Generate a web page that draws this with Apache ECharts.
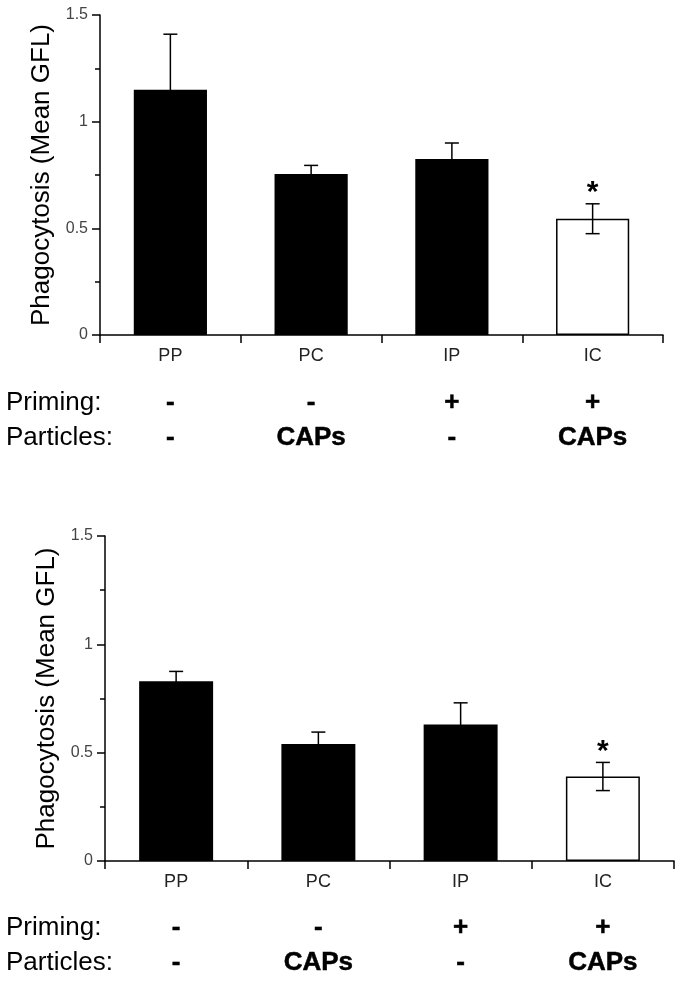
<!DOCTYPE html>
<html>
<head>
<meta charset="utf-8">
<script src="https://cdn.jsdelivr.net/npm/echarts@6/dist/echarts.min.js"></script>
<style>
  html, body { margin: 0; padding: 0; background: #fff; }
  #chart { width: 680px; height: 986px; }
</style>
</head>
<body>
<div id="chart"></div>
<script>
// data
const categories = ['PP', 'PC', 'IP', 'IC'];
const primingRow = ['-', '-', '+', '+'];
const particlesRow = ['-', 'CAPs', '-', 'CAPs'];
const topMeans = [1.15, 0.755, 0.825, 0.545];
const topErrors = [0.26, 0.04, 0.075, 0.07];
const bottomMeans = [0.83, 0.54, 0.63, 0.39];
const bottomErrors = [0.045, 0.055, 0.10, 0.065];
const significance = ['', '', '', '*'];
const barColors = ['#000', '#000', '#000', '#fff'];

const font = 'Liberation Sans, Arial, sans-serif';
const chart = echarts.init(document.getElementById('chart'));

// one grid per panel
const grids = [
  { left: 100, top: 15, width: 563, height: 320 },
  { left: 105, top: 536, width: 569, height: 325 }
];

function mainXAxis(gi) {
  return {
    type: 'category', gridIndex: gi, data: categories,
    axisLine: { lineStyle: { color: '#000', width: 1.5 } },
    axisTick: { show: true, length: 8, lineStyle: { color: '#000', width: 1.5 } },
    axisLabel: { color: '#222', fontSize: 18, fontFamily: font, margin: 12 }
  };
}
function rowXAxis(gi, rowData, offset) {
  return {
    type: 'category', gridIndex: gi, data: rowData, position: 'bottom', offset: offset,
    axisLine: { show: false }, axisTick: { show: false },
    axisLabel: { color: '#000', fontSize: 26, fontWeight: 'bold', fontFamily: font,
      lineHeight: 26, margin: 0, textBorderColor: '#000', textBorderWidth: 0.5 }
  };
}
function yAxis(gi, gap) {
  return {
    type: 'value', gridIndex: gi, min: 0, max: 1.5, interval: 0.5,
    name: 'Phagocytosis (Mean GFL)', nameLocation: 'middle', nameGap: gap, nameRotate: 90,
    nameTextStyle: { color: '#000', fontSize: 26, fontFamily: font },
    axisLine: { show: true, lineStyle: { color: '#000', width: 1.5 } },
    axisTick: { show: true, length: 8, lineStyle: { color: '#000', width: 1.5 } },
    minorTick: { show: true, splitNumber: 2, length: 5, lineStyle: { color: '#000', width: 1.5 } },
    splitLine: { show: false },
    axisLabel: { color: '#444', fontSize: 16, fontFamily: font, margin: 12 }
  };
}

function barSeries(gi, means) {
  return {
    type: 'bar', xAxisIndex: gi * 3, yAxisIndex: gi, barWidth: '52%',
    data: means.map((v, i) => ({
      value: v,
      itemStyle: { color: barColors[i], borderColor: '#000', borderWidth: i === 3 ? 1.5 : 0 }
    })),
    z: 2
  };
}

function errorSeries(gi, means, errors) {
  return {
    type: 'custom', xAxisIndex: gi * 3, yAxisIndex: gi, z: 5,
    data: means.map((m, i) => [i, m, errors[i]]),
    encode: { x: 0, y: 1 },
    renderItem: function (params, api) {
      const x = api.value(0), m = api.value(1), e = api.value(2);
      const top = api.coord([x, m + e]);
      const bot = api.coord([x, m - e]);
      const half = 7;
      const style = { stroke: '#000', lineWidth: 1.5 };
      const children = [
        { type: 'line', shape: { x1: top[0], y1: top[1], x2: bot[0], y2: bot[1] }, style: style },
        { type: 'line', shape: { x1: top[0] - half, y1: top[1], x2: top[0] + half, y2: top[1] }, style: style },
        { type: 'line', shape: { x1: bot[0] - half, y1: bot[1], x2: bot[0] + half, y2: bot[1] }, style: style }
      ];
      const mark = significance[params.dataIndex];
      if (mark) {
        children.push({
          type: 'text',
          style: { text: mark, x: top[0], y: top[1] + 4, align: 'center', verticalAlign: 'bottom',
            fill: '#000', font: 'bold 30px ' + font }
        });
      }
      return { type: 'group', children: children };
    }
  };
}

const rowLabels = [
  { text: 'Priming:', y: 403 }, { text: 'Particles:', y: 438 },
  { text: 'Priming:', y: 928 }, { text: 'Particles:', y: 963 }
];

chart.setOption({
  backgroundColor: '#fff',
  animation: false,
  grid: grids,
  xAxis: [
    mainXAxis(0), rowXAxis(0, primingRow, 55), rowXAxis(0, particlesRow, 90),
    mainXAxis(1), rowXAxis(1, primingRow, 54), rowXAxis(1, particlesRow, 89)
  ],
  yAxis: [yAxis(0, 38), yAxis(1, 40)],
  series: [
    barSeries(0, topMeans), errorSeries(0, topMeans, topErrors),
    barSeries(1, bottomMeans), errorSeries(1, bottomMeans, bottomErrors)
  ],
  graphic: rowLabels.map(r => ({
    type: 'text', left: 6, top: r.y - 13,
    style: { text: r.text, fill: '#000', font: '26px ' + font }
  }))
});
</script>
</body>
</html>
